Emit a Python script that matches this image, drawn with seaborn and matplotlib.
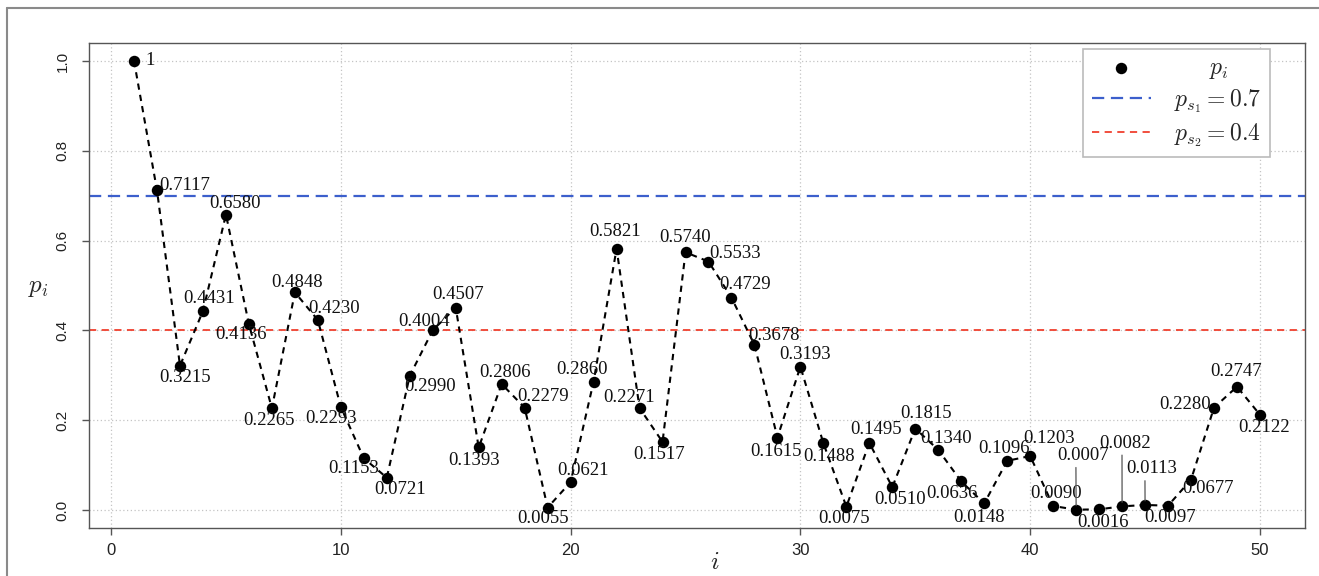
import matplotlib
matplotlib.use("Agg")
import matplotlib.pyplot as plt
import seaborn as sns
import pandas as pd
from matplotlib.lines import Line2D

# ---- data -------------------------------------------------------------
steps = list(range(1, 51))
p_values = [1, 0.7117, 0.3215, 0.4431, 0.6580, 0.4136, 0.2265, 0.4848, 0.4230, 0.2293,
            0.1153, 0.0721, 0.2990, 0.4004, 0.4507, 0.1393, 0.2806, 0.2279, 0.0055, 0.0621,
            0.2860, 0.5821, 0.2271, 0.1517, 0.5740, 0.5533, 0.4729, 0.3678, 0.1615, 0.3193,
            0.1488, 0.0075, 0.1495, 0.0510, 0.1815, 0.1340, 0.0636, 0.0148, 0.1096, 0.1203,
            0.0090, 0.0007, 0.0016, 0.0082, 0.0113, 0.0097, 0.0677, 0.2280, 0.2747, 0.2122]
threshold_s1 = 0.7
threshold_s2 = 0.4
x_ticks = [0, 10, 20, 30, 40, 50]
y_ticks = [0.0, 0.2, 0.4, 0.6, 0.8, 1.0]
y_tick_labels = ["0.0", "0.2", "0.4", "0.6", "0.8", "1.0"]

# value-label placement (pixel offsets from each point: dx, dy up)
label_offsets = [(16, 0), (28, 5), (5, -12), (6, 13), (9, 11), (-8, -10), (-3, -12), (2, 10),
                 (16, 12), (-10, -11), (-10, -10), (13, -12), (20, -11), (-9, 9), (2, 13),
                 (-5, -13), (3, 12), (18, 11), (-5, -11), (12, 12), (-12, 12), (-2, 17),
                 (-10, 11), (-3, -13), (0, 15), (27, 8), (14, 13), (20, 9), (-1, -14), (5, 12),
                 (6, -13), (-2, -12), (7, 13), (8, -12), (11, 15), (8, 11), (-9, -12), (-5, -14),
                 (-3, 12), (19, 18), (3, 12), (7, 54), (4, -13), (3, 63), (7, 36), (2, -12),
                 (17, -9), (-29, 3), (-1, 15), (4, -13)]
leader_steps = [42, 44, 45]

df = pd.DataFrame({"i": steps, "p": p_values})

# ---- style ------------------------------------------------------------
sns.set_theme(style="white")
plt.rcParams["font.family"] = ["Liberation Sans", "DejaVu Sans"]
plt.rcParams["mathtext.fontset"] = "cm"

W, H = 1319, 576
fig = plt.figure(figsize=(W / 100, H / 100), dpi=100)
ax = fig.add_axes([89 / W, 1 - 528 / H, (1305 - 89) / W, (528 - 43) / H])

ax.set_xlim(-0.96, 51.96)
ax.set_ylim(-0.04, 1.04)
ax.set_axisbelow(True)
ax.grid(True, linestyle=(0, (1, 2)), color="#c4c4c4", linewidth=0.9)

# threshold lines
ax.axhline(threshold_s1, color="#3c5fcc", linewidth=1.6, linestyle=(0, (5.5, 3)),
           label=r"$p_{s_1} = 0.7$", zorder=1.5)
ax.axhline(threshold_s2, color="#f0402e", linewidth=1.3, linestyle=(0, (4, 3)),
           label=r"$p_{s_2} = 0.4$", zorder=1.5)

# connecting dashed path and points
sns.lineplot(data=df, x="i", y="p", ax=ax, color="black", linewidth=1.5,
             linestyle=(0, (3, 2.5)), legend=False, zorder=2)
sns.scatterplot(data=df, x="i", y="p", ax=ax, color="black", s=68, linewidth=0,
                zorder=3, label=r"$\quad\;\;\,p_i$")

# value labels
label_px_width = 50.0
for i, v, (dx, dy) in zip(steps, p_values, label_offsets):
    txt = "1" if v == 1 else f"{v:.4f}"
    kw = {}
    if i in leader_steps:
        kw["arrowprops"] = dict(arrowstyle="-", color="#555555", lw=0.9,
                                shrinkA=0, shrinkB=3,
                                relpos=(0.5 - dx / label_px_width, 0.0))
    ax.annotate(txt, xy=(i, v), xytext=(dx, dy), textcoords="offset pixels",
                ha="center", va="center", fontsize=13.5,
                family=["Liberation Serif", "DejaVu Serif"], color="#111111",
                zorder=4, **kw)

# axes, ticks and labels
for s in ax.spines.values():
    s.set_color("#555555")
    s.set_linewidth(1.0)
ax.set_xticks(x_ticks)
ax.set_yticks(y_ticks)
ax.set_yticklabels(y_tick_labels, rotation=90, va="center")
ax.tick_params(axis="x", length=5, width=1, color="#555555", pad=6,
               labelsize=12, labelcolor="#222222", bottom=True)
ax.tick_params(axis="y", length=5, width=1, color="#555555", pad=9,
               labelsize=11, labelcolor="#222222", left=True)

ax.set_xlabel(r"$i$", fontsize=18, va="center")
ax.set_ylabel(r"$p_i$", fontsize=18, rotation=0, ha="center", va="center")
ax.xaxis.set_label_coords(0.515, -0.070)
ax.yaxis.set_label_coords(-0.042, 0.497)

# legend: points first, then thresholds
handles, labels = ax.get_legend_handles_labels()
order = [k for k, l in enumerate(labels) if "p_i" in l] + \
        [k for k, l in enumerate(labels) if "p_i" not in l]
leg = ax.legend([handles[k] for k in order], [labels[k] for k in order],
                loc="upper right", bbox_to_anchor=(0.971, 0.9876), borderaxespad=0,
                fontsize=17, frameon=True, fancybox=False, edgecolor="#bbbbbb",
                framealpha=1, handlelength=2.5, handletextpad=1.0, scatterpoints=1,
                labelspacing=0.25, borderpad=0.35)
leg.get_frame().set_linewidth(1.2)

# outer frame
fig.add_artist(Line2D([7 / W, 7 / W], [0, 1 - 8 / H], transform=fig.transFigure,
                      color="#8a8a8a", lw=1.5))
fig.add_artist(Line2D([7 / W, 1], [1 - 8 / H, 1 - 8 / H], transform=fig.transFigure,
                      color="#8a8a8a", lw=1.5))

fig.savefig("out.png", dpi=100)
